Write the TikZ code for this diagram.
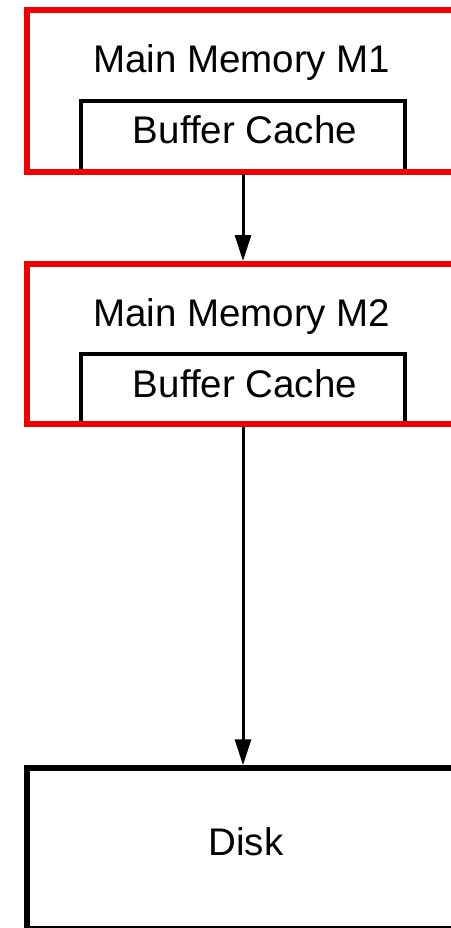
\documentclass[tikz,border=0pt]{standalone}
\usepackage{fontspec}
\setmainfont{Liberation Sans}
\usetikzlibrary{arrows.meta}
\definecolor{memred}{RGB}{240,0,0}
\tikzset{
  membox/.style={draw=memred, line width=6pt, rectangle, inner sep=0pt,
                 minimum width=453pt, minimum height=162pt},
  bufbox/.style={draw=black, line width=3.5pt, rectangle, inner sep=0pt,
                 minimum width=324pt, minimum height=71pt},
  diskbox/.style={draw=black, line width=5.5pt, rectangle, inner sep=0pt,
                 minimum width=453pt, minimum height=161pt},
  lbl/.style={anchor=base, inner sep=0pt, font=\fontsize{38.5pt}{44pt}\selectfont},
  flow/.style={draw=black, line width=3pt, -{Triangle[length=26pt,width=16pt]}}
}
\begin{document}
\begin{tikzpicture}[x=1pt,y=-1pt]
  \useasboundingbox (0,0) rectangle (450,928);

  % first level: main memory M1 with its buffer cache
  \node[bufbox] (buf1) at (243,136.5) {};
  \node[membox] (m1) at (253.5,91) {};
  \node[lbl] (m1txt) at (241.7,72.7) {Main Memory M1};
  \node[lbl] (buf1txt) at (245,143.3) {Buffer Cache};

  % second level: main memory M2 with its buffer cache
  \node[bufbox] (buf2) at (243,389.5) {};
  \node[membox, minimum height=160pt] (m2) at (253.5,344) {};
  \node[lbl] (m2txt) at (241.7,326.5) {Main Memory M2};
  \node[lbl] (buf2txt) at (245,397) {Buffer Cache};

  % disk
  \node[diskbox] (disk) at (253.5,848.5) {};
  \node[lbl] (disktxt) at (246,855) {Disk};

  % data flow between the levels
  \draw[flow] (buf1.south) -- (buf1.south |- m2.north);
  \draw[flow] (buf2.south) -- (buf2.south |- disk.north);
\end{tikzpicture}
\end{document}
